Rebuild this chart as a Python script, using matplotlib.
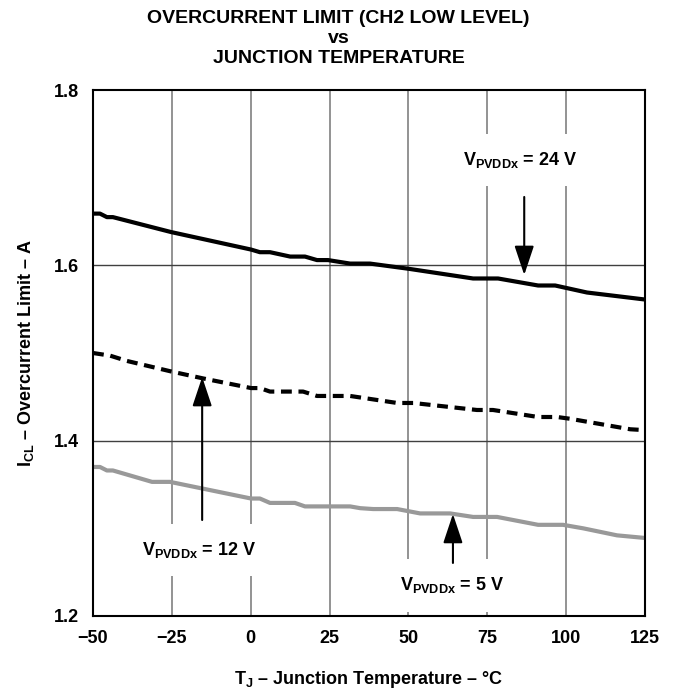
import matplotlib
matplotlib.use("Agg")
import matplotlib.pyplot as plt

plt.rcParams['font.family'] = ['Liberation Sans', 'DejaVu Sans']
plt.rcParams['font.weight'] = 'bold'
plt.rcParams['mathtext.fontset'] = 'custom'
plt.rcParams['mathtext.bf'] = 'Liberation Sans:bold'
plt.rcParams['mathtext.rm'] = 'Liberation Sans:bold'
plt.rcParams['mathtext.default'] = 'bf'

# ---- data ----
t_24v = [-50, -47.8, -45.6, -43.7, -25.3, 0.1, 2.9, 6.1, 12.5, 17.2, 21.0, 24.5,
         31.5, 37.8, 50.2, 70.5, 78.4, 91.1, 96.5, 106.6, 125]
i_24v = [1.659, 1.659, 1.655, 1.655, 1.638, 1.618, 1.615, 1.615, 1.610, 1.610, 1.606, 1.606,
         1.602, 1.602, 1.596, 1.585, 1.585, 1.577, 1.577, 1.569, 1.561]

t_12v = [-50, -44.6, -39.3, -25.3, -15.1, 0.1, 2.9, 6.1, 16.6, 21.0, 31.5, 46.4, 51.5,
         71.7, 76.8, 91.1, 97.1, 101.2, 120.3, 125]
i_12v = [1.500, 1.497, 1.491, 1.479, 1.471, 1.460, 1.460, 1.456, 1.456, 1.451, 1.451, 1.443, 1.443,
         1.435, 1.435, 1.427, 1.427, 1.425, 1.413, 1.412]

t_5v = [-50, -47.8, -45.6, -43.7, -31.3, -25.6, 0.1, 2.9, 6.1, 14.0, 17.2, 31.5, 34.7, 38.8,
        46.4, 53.7, 63.2, 70.5, 78.1, 91.1, 99.0, 105.4, 116.1, 125]
i_5v = [1.370, 1.370, 1.366, 1.366, 1.353, 1.353, 1.334, 1.334, 1.329, 1.329, 1.325, 1.325, 1.323, 1.322,
        1.322, 1.317, 1.317, 1.313, 1.313, 1.304, 1.304, 1.300, 1.292, 1.289]

x_ticks = [-50, -25, 0, 25, 50, 75, 100, 125]
x_tick_labels = ['\u221250', '\u221225', '0', '25', '50', '75', '100', '125']
y_ticks = [1.2, 1.4, 1.6, 1.8]
y_tick_labels = ['1.2', '1.4', '1.6', '1.8']

title_text = 'OVERCURRENT LIMIT (CH2 LOW LEVEL)\nvs\nJUNCTION TEMPERATURE'
xlabel_text = r'T$_J$ ' + '\u2013 Junction Temperature \u2013 \u00b0C'
ylabel_text = r'I$_{CL}$ ' + '\u2013 Overcurrent Limit \u2013 A'
label_24v = r'V$_{PVDDx}$ = 24 V'
label_12v = r'V$_{PVDDx}$ = 12 V'
label_5v = r'V$_{PVDDx}$ = 5 V'

# ---- figure ----
fig = plt.figure(figsize=(6.77, 6.94), dpi=100)
ax = fig.add_axes([0.1374, 0.1124, 0.8154, 0.7579])
ax.set_xlim(-50, 125)
ax.set_ylim(1.2, 1.8)

for xv in x_ticks[1:-1]:
    ax.axvline(xv, color='#808080', lw=1.2, zorder=1)
for yv in y_ticks[1:-1]:
    ax.axhline(yv, color='#404040', lw=1.0, zorder=1)

ax.plot(t_24v, i_24v, color='black', lw=3.0, solid_capstyle='butt', zorder=3)
ax.plot(t_12v, i_12v, color='black', lw=3.0, linestyle=(0, (2.6, 1.6)),
        dash_capstyle='butt', zorder=3)
ax.plot(t_5v, i_5v, color='#999999', lw=3.0, zorder=3)

ax.set_xticks(x_ticks)
ax.set_xticklabels(x_tick_labels)
ax.set_yticks(y_ticks)
ax.set_yticklabels(y_tick_labels)
ax.tick_params(length=0, labelsize=13, pad=10)
for lab in ax.get_xticklabels() + ax.get_yticklabels():
    lab.set_fontweight('bold')

for s in ax.spines.values():
    s.set_linewidth(1.5)
    s.set_color('black')
    s.set_zorder(5)

ax.set_xlabel(xlabel_text, fontsize=13, fontweight='bold', labelpad=16)
ax.set_ylabel(ylabel_text, fontsize=13, fontweight='bold', labelpad=13)

fig.text(0.5, 1 - 10 / 694, title_text, fontsize=14, fontweight='bold',
         ha='center', va='top', linespacing=1.22)

box = dict(boxstyle='square,pad=0.9', facecolor='white', edgecolor='none')
ax.text(85.5, 1.72, label_24v, fontsize=13, ha='center', va='center', bbox=box, zorder=4)
ax.text(-16.4, 1.275, label_12v, fontsize=13, ha='center', va='center', bbox=box, zorder=4)
ax.text(63.8, 1.235, label_5v, fontsize=13, ha='center', va='center', bbox=box, zorder=4)

arrow = dict(arrowstyle='-|>,head_length=18,head_width=6', mutation_scale=1,
             color='black', lw=1.5, shrinkA=0, shrinkB=0)
ax.annotate('', xy=(86.7, 1.589), xytext=(86.7, 1.678), arrowprops=arrow, zorder=6)
ax.annotate('', xy=(-15.4, 1.4726), xytext=(-15.4, 1.3095), arrowprops=arrow, zorder=6)
ax.annotate('', xy=(64.1, 1.3164), xytext=(64.1, 1.2605), arrowprops=arrow, zorder=6)

fig.savefig('out.png', dpi=100)
